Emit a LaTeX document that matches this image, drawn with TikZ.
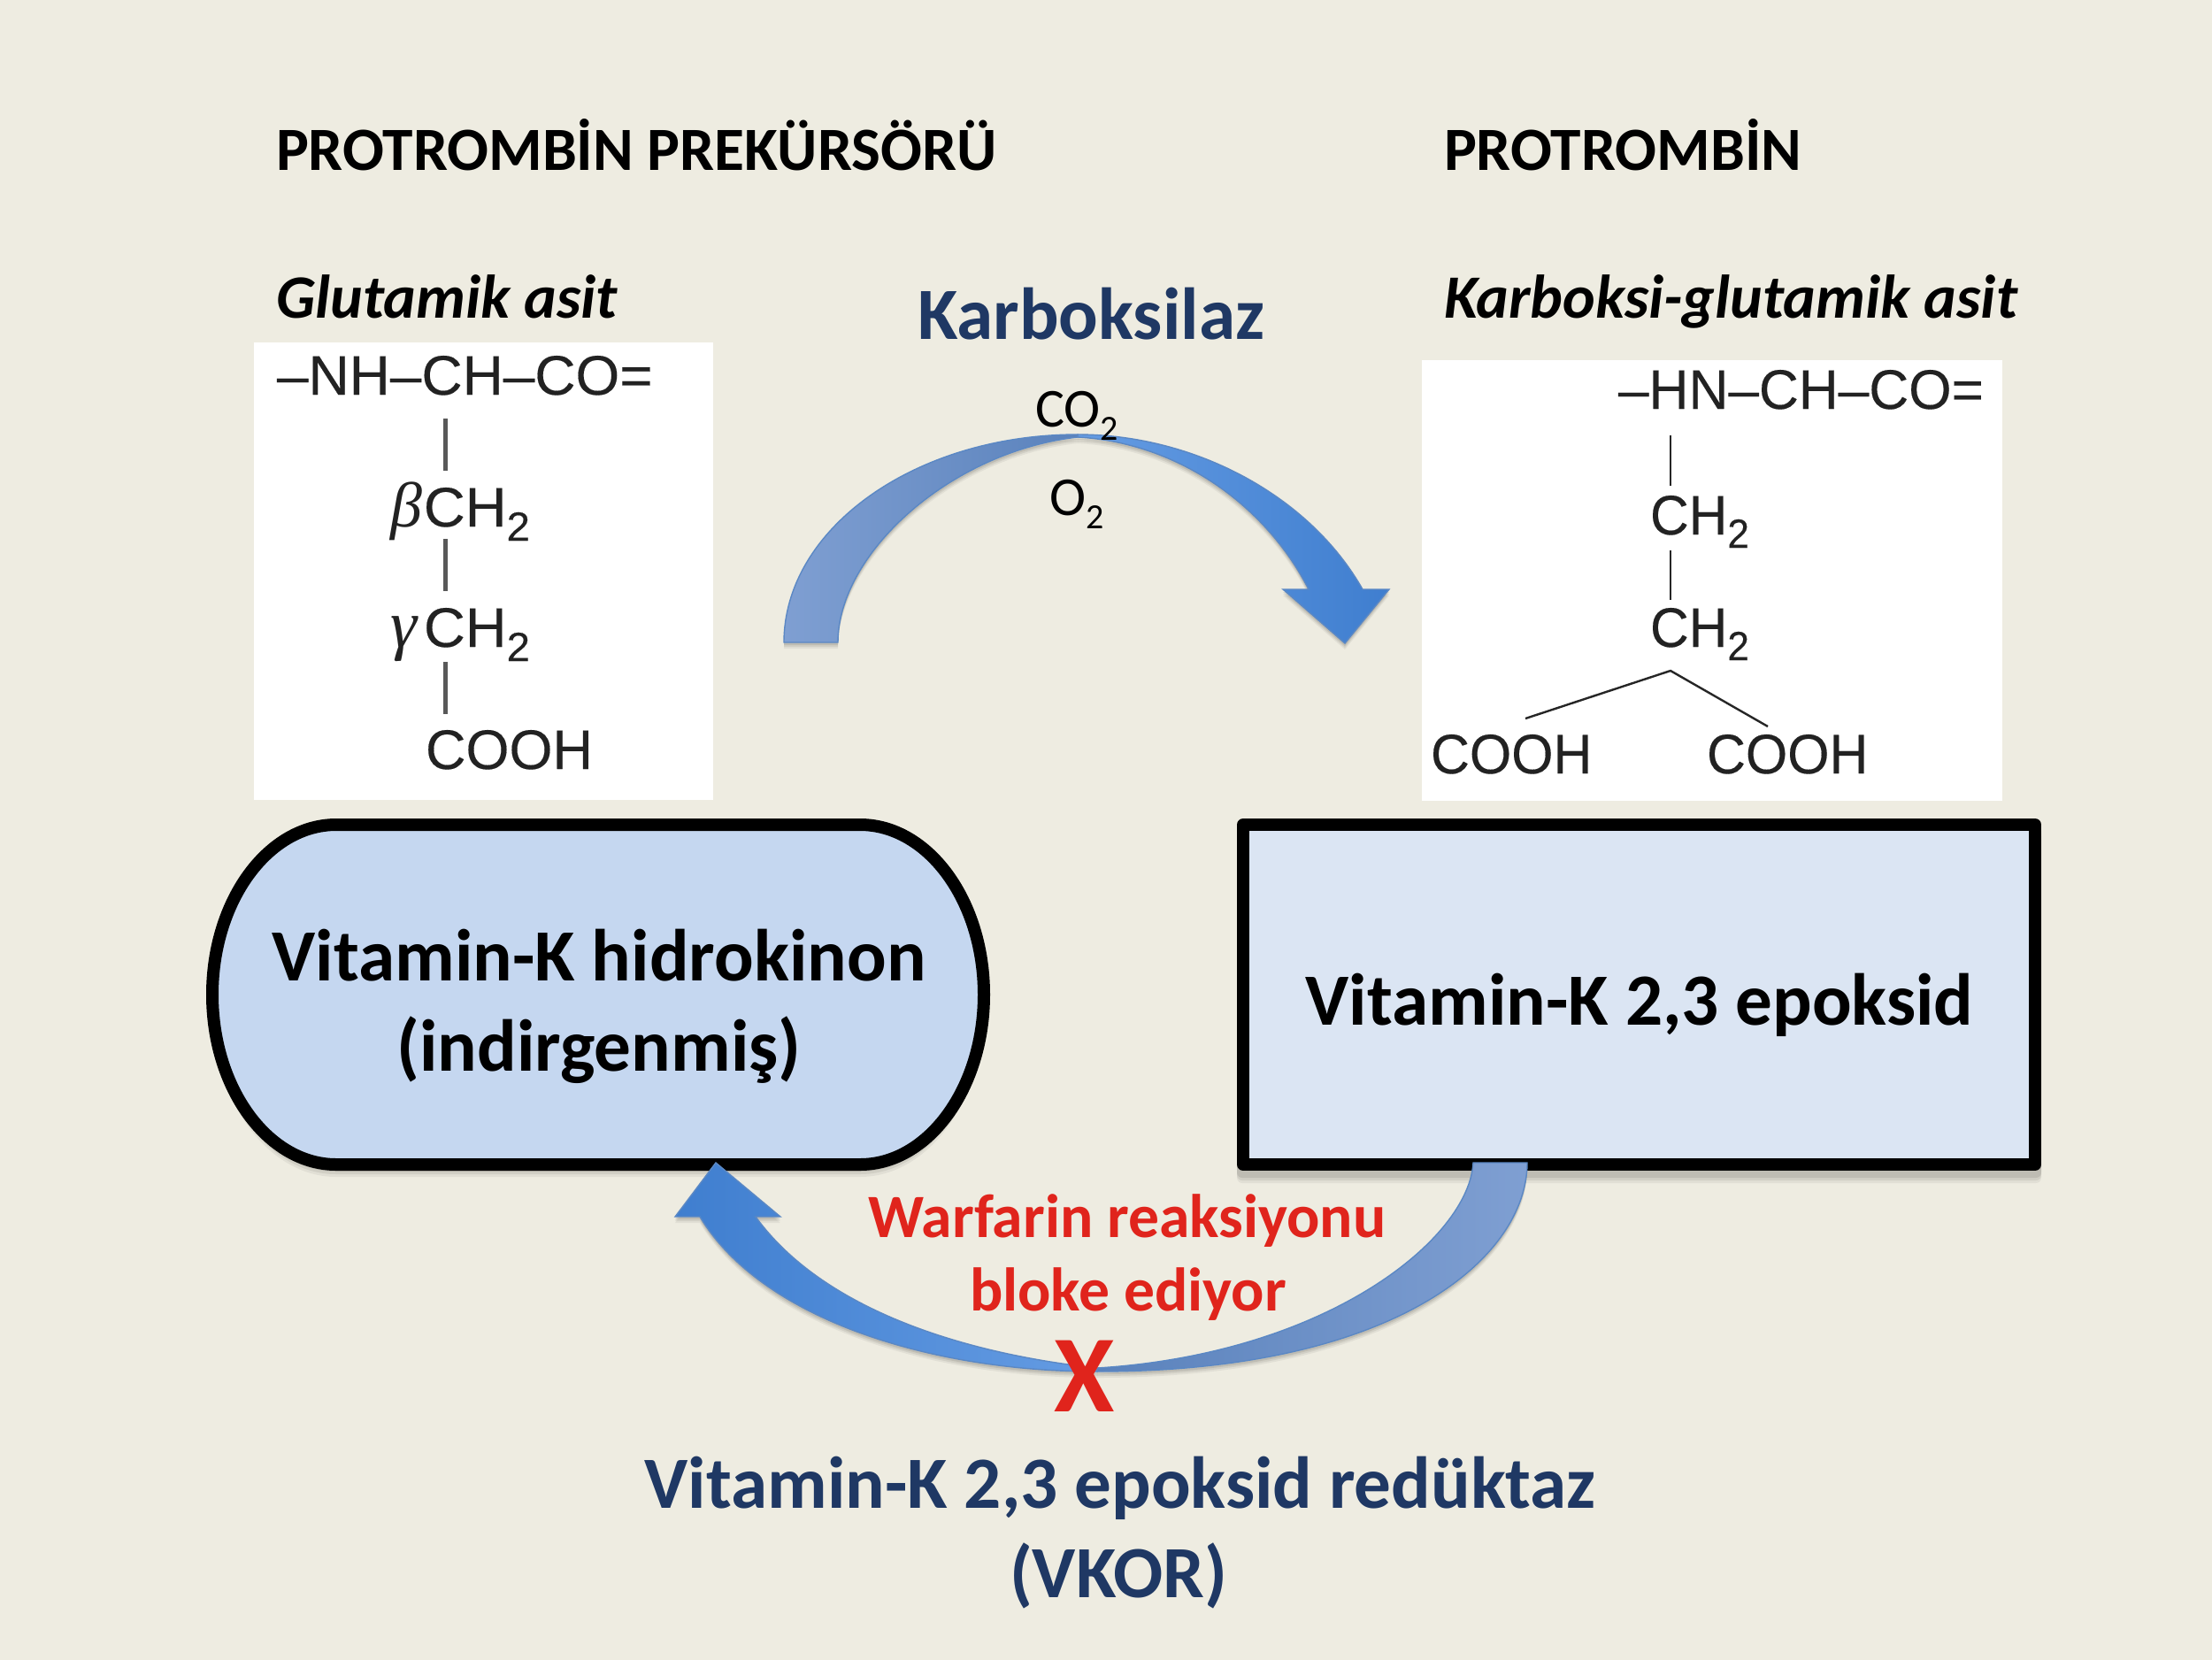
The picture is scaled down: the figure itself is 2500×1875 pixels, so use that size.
\documentclass[tikz,border=0pt]{standalone}
\usepackage{fontspec}
\setmainfont{Carlito}
\newfontfamily\chemf[FakeBold=0.25]{Liberation Sans}
\newfontfamily\grkf{Liberation Serif}
\usetikzlibrary{calc}
\definecolor{bgc}{HTML}{EEECE1}
\definecolor{navy}{HTML}{1F3864}
\definecolor{warn}{HTML}{E0241C}
\definecolor{chemc}{HTML}{222222}
\definecolor{edgec}{HTML}{5B88C4}
\definecolor{paleA}{HTML}{7F9FD2}
\definecolor{paleB}{HTML}{5A82BC}
\definecolor{brightA}{HTML}{659CE3}
\definecolor{brightB}{HTML}{3F7ECF}
\definecolor{fillL}{HTML}{C5D7F0}
\definecolor{fillR}{HTML}{DBE5F3}
\newcommand\sbs[1]{\raisebox{-8pt}{\fontsize{23}{23}\selectfont #1}}
\newcommand\sbt[1]{\raisebox{-7.5pt}{\fontsize{23}{23}\selectfont #1}}
\newcommand\shadowed[1]{%
  \foreach \d/\o in {7/.05,5/.07,3/.09}{\fill[black,opacity=\o,shift={(0,\d)}] #1;}}
\def\pA{(886,726) .. controls (886,597) and (1035,491) .. (1218,491) .. controls (1218,494) and (1218,494) .. (1218,494) .. controls (1075,510) and (947,625) .. (947,726) -- cycle}
\def\pB{(1218,491) .. controls (1350,491) and (1480,560) .. (1540,666) -- (1570,666) -- (1520,727) -- (1450,666) -- (1479,666) .. controls (1430,570) and (1330,500) .. (1218,494) -- cycle}
\def\pC{(1726,1314) .. controls (1726,1420) and (1580,1550) .. (1240,1550) -- (1240,1546) .. controls (1500,1530) and (1660,1400) .. (1665,1314) -- cycle}
\def\pD{(1240,1550) .. controls (1050,1550) and (860,1490) .. (791,1375) -- (763,1375) -- (809,1314) -- (882,1375) -- (854,1375) .. controls (930,1480) and (1090,1530) .. (1240,1546) -- cycle}
\tikzset{
  x=.5pt,y=-.5pt,
  lbl/.style={anchor=base west,inner sep=0pt,outer sep=0pt},
  ctr/.style={anchor=base,inner sep=0pt,outer sep=0pt},
  heading/.style={lbl,font=\fontsize{34.7}{40}\selectfont\bfseries,text=black},
  sublabel/.style={lbl,font=\fontsize{34.8}{40}\selectfont\bfseries\itshape,text=black},
  enzyme/.style={ctr,font=\fontsize{41.6}{46}\selectfont\bfseries,text=navy},
  boxtext/.style={ctr,font=\fontsize{41.6}{46}\selectfont\bfseries,text=black},
  redtext/.style={ctr,font=\fontsize{34.8}{40}\selectfont\bfseries,text=warn},
  gas/.style={lbl,font=\fontsize{31}{36}\selectfont,text=black},
  chem/.style={lbl,font=\fontsize{31.5}{36}\selectfont\chemf,text=chemc},
  bondL/.style={draw=black!65,line width=2.5pt},
  bondR/.style={draw=black!85,line width=1.2pt},
  outl/.style={draw=edgec,line width=.7pt},
  boxline/.style={draw=black,line width=7pt,line join=round},
}
\begin{document}
\begin{tikzpicture}
\useasboundingbox (0,0) rectangle (2500,1875);
\fill[bgc] (-10,-10) rectangle (2510,1885);
% white panels
\fill[white] (287,387) rectangle (806,904);
\fill[white] (1607,407) rectangle (2263,905);
% headings
\node[heading] (h1) at (312,192) {PROTROMBİN PREKÜRSÖRÜ};
\node[heading] (h2) at (1632,192) {PROTROMBİN};
\node[sublabel] (s1) at (312,359) {Glutamik asit};
\node[sublabel] (s2) at (1632,359) {Karboksi-glutamik asit};
\node[enzyme] (karb) at (1233,383) {Karboksilaz};
% left formula
\node[chem] (la) at (313,446) {\scalebox{1.015}[1]{–NH–CH–CO=}};
\node[chem] (lb) at (441,595) {{\fontsize{36}{36}\selectfont\grkf\itshape β}\kern1pt\scalebox{1.03}[1]{CH\sbs{2}}};
\node[chem] (lc) at (441,731) {{\fontsize{38}{38}\selectfont\grkf\itshape γ}\kern4pt\scalebox{1.03}[1]{CH\sbs{2}}};
\node[chem] (ld) at (481,869) {COOH};
\coordinate (l1) at (503,473); \coordinate (l2) at (503,532);
\coordinate (l3) at (503,609); \coordinate (l4) at (503,668);
\coordinate (l5) at (503,748); \coordinate (l6) at (503,807);
\draw[bondL] (l1) -- (l2);
\draw[bondL] (l3) -- (l4);
\draw[bondL] (l5) -- (l6);
% right formula
\node[chem] (ra) at (1829,462) {\scalebox{.987}[1]{–HN–CH–CO=}};
\node[chem] (rb) at (1865,604) {\scalebox{.96}[1]{CH\sbt{2}}};
\node[chem] (rc) at (1865,731) {\scalebox{.96}[1]{CH\sbt{2}}};
\node[chem] (rd) at (1617,874) {\scalebox{.965}[1]{COOH}};
\node[chem] (re) at (1929,874) {\scalebox{.965}[1]{COOH}};
\coordinate (r1) at (1888,492); \coordinate (r2) at (1888,549);
\coordinate (r3) at (1888,622); \coordinate (r4) at (1888,678);
\coordinate (apex) at (1888,758); \coordinate (rl) at (1724,812); \coordinate (rr) at (1998,821);
\draw[bondR] (r1) -- (r2);
\draw[bondR] (r3) -- (r4);
\draw[bondR] (rl) -- (apex) -- (rr);
% boxes
\def\pL{(380,932) -- (972,932) .. controls (1049,932) and (1112,1018) .. (1112,1124) .. controls (1112,1230) and (1049,1316) .. (972,1316) -- (380,1316) .. controls (303,1316) and (240,1230) .. (240,1124) .. controls (240,1018) and (303,932) .. (380,932) -- cycle}
\def\pR{(1405,932) rectangle (2300,1316)}
\foreach \d/\o in {14/.05,11/.07,8/.09}{\fill[black,opacity=\o,shift={(0,\d)}] \pL;\fill[black,opacity=\o,shift={(0,\d)},rounded corners=3pt] (1398,925) rectangle (2307,1323);}
\path[boxline,fill=fillL] \pL;
\path[boxline,fill=fillR] \pR;
\node[boxtext] (vh1) at (677,1108) {Vitamin-K hidrokinon};
\node[boxtext] (vh2) at (677,1210) {(indirgenmiş)};
\node[boxtext] (ve) at (1853,1158) {Vitamin-K 2,3 epoksid};
% upper arrow
\shadowed{\pA}\shadowed{\pB}
\shade[left color=paleA,right color=paleB] \pA;
\shade[left color=brightA,right color=brightB] \pB;
\draw[outl] \pA;
\draw[outl] \pB;
% lower arrow
\shadowed{\pC}\shadowed{\pD}
\shade[left color=paleB,right color=paleA] \pC;
\shade[left color=brightB,right color=brightA] \pD;
\draw[outl] \pC;
\draw[outl] \pD;
% labels over arrows
\node[gas] (co) at (1170,482) {CO\raisebox{-7.5pt}{\fontsize{20}{20}\selectfont 2}};
\node[gas] (oo) at (1186,582) {O\raisebox{-7.5pt}{\fontsize{20}{20}\selectfont 2}};
\node[redtext] (w1) at (1274,1398) {Warfarin reaksiyonu};
\node[redtext] (w2) at (1275,1481) {bloke ediyor};
\node[ctr,font=\fontsize{62}{70}\selectfont\bfseries,text=warn] (xm) at (1226,1595) {X};
\node[enzyme] (e1) at (1266,1704) {Vitamin-K 2,3 epoksid redüktaz};
\node[enzyme] (e2) at (1264,1805) {(VKOR)};
\end{tikzpicture}
\end{document}
